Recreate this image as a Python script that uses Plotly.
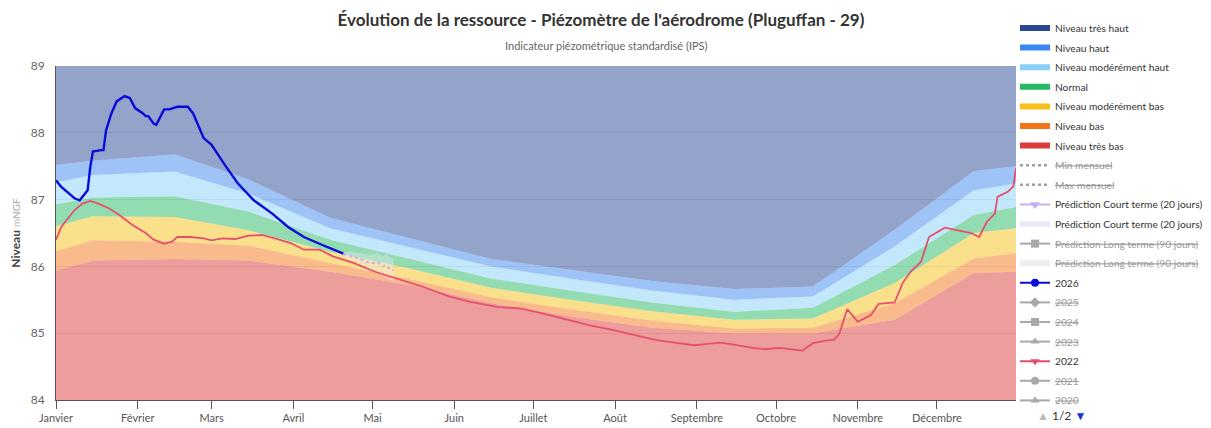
import plotly.graph_objects as go

YEAR = "2026"

# ---- IPS bands (upper limit of each level), sampled mid-month ----
band_dates = ["01-01", "01-15", "02-15", "03-15", "04-15", "05-15", "06-15",
              "07-15", "08-15", "09-15", "10-15", "11-15", "12-15", "12-31"]
tres_bas_top = [85.94, 86.09, 86.11, 86.09, 85.92, 85.72, 85.45, 85.25, 85.08, 85.00, 85.00, 85.20, 85.90, 85.92]
bas_top      = [86.23, 86.39, 86.37, 86.31, 86.05, 85.81, 85.54, 85.36, 85.19, 85.07, 85.08, 85.45, 86.12, 86.20]
mod_bas_top  = [86.60, 86.75, 86.74, 86.54, 86.22, 85.97, 85.68, 85.50, 85.33, 85.20, 85.22, 85.75, 86.50, 86.57]
normal_top   = [86.93, 87.03, 87.05, 86.82, 86.40, 86.11, 85.82, 85.64, 85.46, 85.32, 85.38, 86.02, 86.77, 86.89]
mod_haut_top = [87.26, 87.37, 87.42, 87.09, 86.57, 86.29, 86.00, 85.82, 85.64, 85.50, 85.55, 86.30, 87.14, 87.24]
haut_top     = [87.52, 87.58, 87.68, 87.30, 86.73, 86.43, 86.11, 85.95, 85.78, 85.66, 85.70, 86.55, 87.43, 87.50]
y_min, y_max = 84, 89

# ---- 2026 measurements ----
d2026 = ["01-01", "01-03", "01-06", "01-08", "01-10", "01-11", "01-13", "01-14", "01-15", "01-18",
         "01-19", "01-20", "01-22", "01-24", "01-27", "01-29", "01-31", "02-03", "02-04", "02-05",
         "02-07", "02-08", "02-09", "02-11", "02-13", "02-15", "02-16", "02-20", "02-22", "02-26",
         "03-01", "03-06", "03-11", "03-17", "03-24", "03-30", "04-05", "04-12", "04-18", "04-20"]
v2026 = [87.29, 87.19, 87.09, 87.02, 86.99, 87.04, 87.14, 87.49, 87.72, 87.74,
         87.74, 88.04, 88.29, 88.47, 88.55, 88.52, 88.37, 88.29, 88.25, 88.25,
         88.14, 88.12, 88.19, 88.35, 88.35, 88.37, 88.39, 88.39, 88.29, 87.92,
         87.82, 87.52, 87.24, 86.99, 86.79, 86.59, 86.44, 86.32, 86.22, 86.19]

# ---- 2022 measurements ----
d2022 = ["01-01", "01-03", "01-05", "01-08", "01-11", "01-14", "01-17", "01-21", "01-25", "01-30",
         "02-04", "02-07", "02-11", "02-14", "02-16", "02-21", "02-26", "03-01", "03-05", "03-10",
         "03-15", "03-20", "03-25", "03-31", "04-05", "04-11", "04-16", "04-24", "05-02", "05-10",
         "05-19", "05-30", "06-07", "06-18", "06-26", "07-04", "07-13", "07-22", "07-31", "08-08",
         "08-15", "08-18", "08-31", "09-05", "09-10", "09-15", "09-22", "09-27", "10-02", "10-11",
         "10-15", "10-20", "10-23", "10-25", "10-28", "11-01", "11-06", "11-08", "11-09", "11-15",
         "11-18", "11-21", "11-25", "11-28", "12-04", "12-09", "12-14", "12-17", "12-20", "12-23",
         "12-24", "12-28", "12-30", "12-31"]
v2022 = [86.40, 86.59, 86.69, 86.84, 86.94, 86.98, 86.94, 86.87, 86.77, 86.62,
         86.50, 86.40, 86.34, 86.37, 86.44, 86.44, 86.42, 86.39, 86.42, 86.41,
         86.46, 86.47, 86.42, 86.35, 86.25, 86.25, 86.15, 86.05, 85.92, 85.82,
         85.71, 85.55, 85.47, 85.39, 85.37, 85.30, 85.21, 85.12, 85.05, 84.97,
         84.91, 84.89, 84.82, 84.84, 84.86, 84.83, 84.78, 84.76, 84.78, 84.74,
         84.85, 84.89, 84.90, 84.99, 85.36, 85.17, 85.27, 85.39, 85.44, 85.46,
         85.75, 85.92, 86.07, 86.44, 86.58, 86.54, 86.50, 86.44, 86.67, 86.79,
         87.04, 87.12, 87.20, 87.47]

# ---- short-term prediction (20 days) ----
d_pred = ["04-20", "04-21", "04-25", "04-28", "04-30", "05-03", "05-05", "05-06", "05-08", "05-09"]
v_pred = [86.19, 86.17, 86.13, 86.08, 86.05, 86.06, 86.00, 86.02, 85.95, 85.94]
v_pred_low = [86.19, 86.12, 86.05, 85.98, 85.93, 85.92, 85.85, 85.85, 85.78, 85.76]
v_pred_high = [86.19, 86.22, 86.21, 86.18, 86.17, 86.20, 86.15, 86.19, 86.12, 86.12]

month_starts = ["01-01", "02-01", "03-01", "04-01", "05-01", "06-01",
                "07-01", "08-01", "09-01", "10-01", "11-01", "12-01"]
month_names = ["Janvier", "Février", "Mars", "Avril", "Mai", "Juin", "Juillet",
               "Août", "Septembre", "Octobre", "Novembre", "Décembre"]

band_names = ["Niveau très haut", "Niveau haut", "Niveau modérément haut", "Normal",
              "Niveau modérément bas", "Niveau bas", "Niveau très bas"]
band_colors = ["#294793", "#3b87ef", "#87cff7", "#27b963", "#f7c119", "#f37519", "#dd3b3b"]


def dt(lst):
    return [f"{YEAR}-{d}" for d in lst]


def rgba(hexc, a):
    h = hexc.lstrip("#")
    r, g, b = int(h[0:2], 16), int(h[2:4], 16), int(h[4:6], 16)
    return f"rgba({r},{g},{b},{a})"


# The page body adds an 8px offset: the figure is laid out in a 1203x420 box.
W, H = 1203, 420
OFF = 8
PL, PR, PT, PB = 56 - OFF, 1016 - OFF, 66 - OFF, 400 - OFF  # plot area in figure px
PW, PH = PR - PL, PB - PT

FONT = "Lato, 'Open Sans', sans-serif"
fig = go.Figure()

# ---- legend entries first (so they come first in legend order) ----
_k = [0]


def leg(name, color, width=6, dash=None, symbol=None, hidden=False, msize=8):
    txt = f"<s>{name}</s>" if hidden else name
    m = "lines+markers" if symbol else "lines"
    _k[0] += 1
    fig.add_trace(go.Scatter(
        x=[None], y=[None], mode=m, name=txt, legendgroup=f"g{_k[0]}",
        line=dict(color=color, width=width, dash=dash),
        marker=dict(symbol=symbol or "circle", size=msize, color=color),
        visible="legendonly" if hidden else True,
    ))


for n, c in zip(band_names, band_colors):
    leg(n, c, width=6)
leg("Min mensuel", "#444444", width=2.5, dash="dot", hidden=True)
leg("Max mensuel", "#444444", width=2.5, dash="dot", hidden=True)
leg("Prédiction Court terme (20 jours)", "#c9aef3", width=2, symbol="triangle-down", msize=9)
leg("Prédiction Court terme (20 jours)", "#ece8fb", width=6)
leg("Prédiction Long terme (90 jours)", "#555555", width=2, symbol="square", hidden=True)
leg("Prédiction Long terme (90 jours)", "#dddddd", width=6, hidden=True)
leg("2026", "#0b0bd9", width=2, symbol="circle")
leg("2025", "#555555", width=2, symbol="diamond", hidden=True)
leg("2024", "#555555", width=2, symbol="square", hidden=True)
leg("2023", "#555555", width=2, symbol="triangle-up", hidden=True)
leg("2022", "#e5506f", width=2, symbol="triangle-down")
leg("2021", "#555555", width=2, symbol="circle", hidden=True)
leg("2020", "#555555", width=2, symbol="triangle-up", hidden=True)

bx = dt(band_dates)
# stacked bands from bottom to top
levels = [[y_min] * len(bx), tres_bas_top, bas_top, mod_bas_top, normal_top,
          mod_haut_top, haut_top, [y_max] * len(bx)]
fill_colors = band_colors[::-1]  # bottom -> top : très bas ... très haut
fig.add_trace(go.Scatter(x=bx, y=levels[0], mode="lines", line=dict(width=0),
                         showlegend=False, hoverinfo="skip"))
for i in range(1, len(levels)):
    fig.add_trace(go.Scatter(x=bx, y=levels[i], mode="lines", line=dict(width=0),
                             fill="tonexty", fillcolor=rgba(fill_colors[i - 1], 0.5),
                             showlegend=False, hoverinfo="skip"))

# prediction range + line
fig.add_trace(go.Scatter(x=dt(d_pred), y=v_pred_low, mode="lines", line=dict(width=0),
                         showlegend=False, hoverinfo="skip"))
fig.add_trace(go.Scatter(x=dt(d_pred), y=v_pred_high, mode="lines", line=dict(width=0),
                         fill="tonexty", fillcolor="rgba(240,236,255,0.35)",
                         showlegend=False, hoverinfo="skip"))

# data lines
fig.add_trace(go.Scatter(x=dt(d2022), y=v2022, mode="lines",
                         line=dict(color="#e5506f", width=1.8), showlegend=False))
fig.add_trace(go.Scatter(x=dt(d2026), y=v2026, mode="lines",
                         line=dict(color="#0b0bd9", width=2.4), showlegend=False))
fig.add_trace(go.Scatter(x=dt(d_pred), y=v_pred, mode="lines",
                         line=dict(color="#c9aef3", width=2, dash="dot"), showlegend=False))

fig.update_layout(
    width=W, height=H,
    margin=dict(l=PL, r=W - PR, t=PT, b=H - PB, autoexpand=False),
    paper_bgcolor="white", plot_bgcolor="white",
    font=dict(family=FONT, size=12, color="#333333"),
    title=dict(text="<b>Évolution de la ressource - Piézomètre de l'aérodrome (Pluguffan - 29)</b>",
               x=(601 - OFF) / W, xanchor="center", y=1 - (20 - OFF) / H, yanchor="middle",
               font=dict(family=FONT, size=17, color="#333333")),
    showlegend=True,
    legend=dict(x=(1015 - OFF) / W, xref="container", xanchor="left",
                y=1 - (13.5 - OFF) / H, yref="container", yanchor="top",
                traceorder="grouped", maxheight=H, tracegroupgap=0.6,
                font=dict(family=FONT, size=10.2, color="#333333"),
                itemwidth=30, bgcolor="rgba(0,0,0,0)",
                itemclick=False, itemdoubleclick=False),
    annotations=[
        dict(text="Indicateur piézométrique standardisé (IPS)", xref="paper", yref="paper",
             x=(606 - OFF - PL) / PW, y=(PB - (45 - OFF)) / PH, showarrow=False, xanchor="center",
             yanchor="middle", font=dict(family=FONT, size=11, color="#666666")),
        dict(text="<span style='color:#bbbbbb'>▲</span> 1/2 <span style='color:#1133dd'>▼</span>",
             xref="paper", yref="paper", x=(1035 - OFF - PL) / PW, y=(PB - (415 - OFF)) / PH,
             showarrow=False, xanchor="left", yanchor="middle",
             font=dict(family=FONT, size=12, color="#333333")),
    ],
)

fig.update_xaxes(
    type="date", range=[f"{YEAR}-01-01", f"{YEAR}-12-31"],
    tickmode="array", tickvals=dt(month_starts), ticktext=month_names,
    ticks="outside", ticklen=8, tickcolor="#555555", showgrid=False,
    showline=True, linecolor="#555555", linewidth=1,
    tickfont=dict(family=FONT, size=11, color="#555555"), zeroline=False,
)
fig.update_yaxes(
    range=[y_min, y_max], dtick=1, tick0=84, showgrid=True, gridcolor="#e6e6e6",
    showline=True, linecolor="#555555", linewidth=1, zeroline=False,
    ticklabelstandoff=8,
    tickfont=dict(family=FONT, size=12, color="#666666"),
    title=dict(text="<b>Niveau</b> <span style='color:#aaaaaa;font-size:10px'>mNGF</span>",
               standoff=8, font=dict(family=FONT, size=12, color="#444444")),
)

fig.write_html("out.html")
